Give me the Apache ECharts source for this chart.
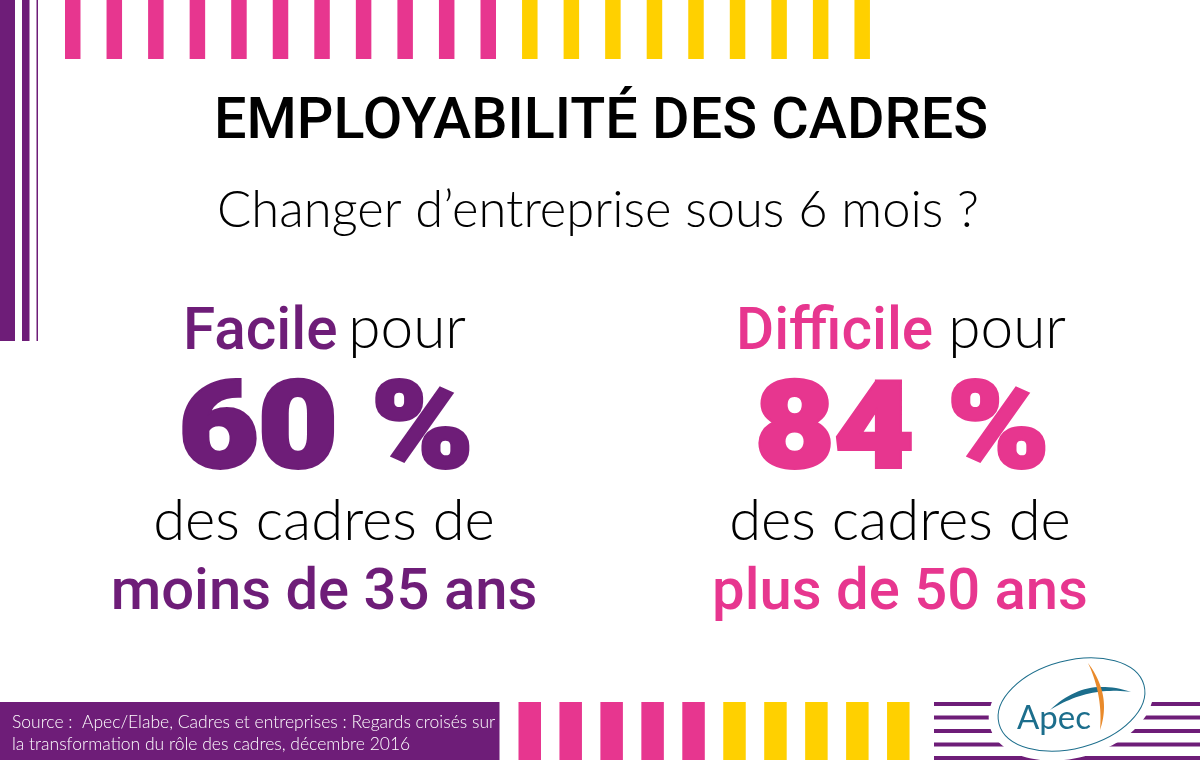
<!DOCTYPE html>
<html>
<head>
	<meta charset="utf-8">
	<title>Employabilité des cadres</title>
	<script src="https://cdn.jsdelivr.net/npm/echarts@6/dist/echarts.min.js"></script>
	<style>
	html, body { height: 100%; margin: 0; background: #fff; }
	#main { width: 1200px; height: 760px; }
	</style>
</head>
<body>
<div id="main"></div>
<script>
	// chart content
	var titleText = 'EMPLOYABILITÉ DES CADRES';
	var questionText = 'Changer d’entreprise sous 6 mois ?';
	var leadWords = ['Facile', 'Difficile'];
	var percentages = [60, 84];
	var ageGroups = ['moins de 35 ans', 'plus de 50 ans'];
	var sourceLines = [
		'Source :  Apec/Elabe, Cadres et entreprises : Regards croisés sur',
		'la transformation du rôle des cadres, décembre 2016'
	];

	var PURPLE = '#6e1d78', PINK = '#e7368f', YELLOW = '#ffd000', TEAL = '#1c6e8c', ORANGE = '#e98a2b';
	var LIGHT = '"Lato", "Open Sans", sans-serif';
	var HEAVY = '"Roboto", "Lato", sans-serif';
	var centers = [324, 900];
	var colors = [PURPLE, PINK];
	var leadLeft = [183, 736];
	var pourRight = [466, 1066];

	var myChart = echarts.init(document.getElementById('main'), null, { renderer: 'canvas' });
	var els = [];

	function bar(x, y, w, h, color) {
		els.push({ type: 'rect', shape: { x: x, y: y, width: w, height: h }, style: { fill: color } });
	}
	function text(x, y, str, size, color, weight, align, family, thicken, stretch) {
		els.push({
			type: 'text', x: x, y: y, scaleX: stretch || 1,
			style: {
				text: str, fontSize: size, fill: color, fontWeight: weight || 300,
				fontFamily: family || LIGHT, textAlign: align || 'center', textVerticalAlign: 'middle',
				stroke: thicken ? color : null, lineWidth: thicken || 0
			}
		});
	}
	// le type path n'existe pas dans graphic : on echantillonne le croissant en polygone
	function crescent(a, c1, b, c2, color) {
		var pts = [], n = 24, t, k;
		for (k = 0; k <= n; k++) {
			t = k / n;
			pts.push([
				(1 - t) * (1 - t) * a[0] + 2 * t * (1 - t) * c1[0] + t * t * b[0],
				(1 - t) * (1 - t) * a[1] + 2 * t * (1 - t) * c1[1] + t * t * b[1]
			]);
		}
		for (k = n; k >= 0; k--) {
			t = k / n;
			pts.push([
				(1 - t) * (1 - t) * a[0] + 2 * t * (1 - t) * c2[0] + t * t * b[0],
				(1 - t) * (1 - t) * a[1] + 2 * t * (1 - t) * c2[1] + t * t * b[1]
			]);
		}
		els.push({ type: 'polygon', shape: { points: pts }, style: { fill: color } });
	}

	// bandes du haut
	for (var i = 0; i < 20; i++) {
		bar(65 + i * 41.55, 0, 15.5, 59, i < 11 ? PINK : YELLOW);
	}
	// bandes de gauche
	bar(0, 0, 15, 341, PURPLE);
	bar(22, 0, 7.5, 341, PURPLE);
	bar(36.5, 0, 1.5, 341, PURPLE);

	// titres
	text(601, 124, titleText, 57.5, '#000', 500, 'center', HEAVY);
	text(598, 211, questionText, 50.7, '#000', 300);

	// les deux colonnes
	percentages.forEach(function (value, k) {
		text(leadLeft[k], 334, leadWords[k], 58.5, colors[k], 500, 'left', HEAVY);
		text(pourRight[k], 329, 'pour', 58.5, '#000', 300, 'right');
		text(centers[k] + 2, 437, value + ' %', 120, colors[k], 900, 'center', HEAVY, 4, 1.14);
		text(centers[k], 521, 'des cadres de', 58, '#000', 300);
		text(centers[k], 594, ageGroups[k], 58, colors[k], 500, 'center', HEAVY);
	});

	// pied de page
	bar(0, 702, 499.5, 58, PURPLE);
	sourceLines.forEach(function (line, k) {
		text(12, 722 + k * 22, line, 17.5, '#fff', 300, 'left');
	});
	for (var j = 0; j < 10; j++) {
		bar(518.5 + j * 40.95, 702, 22.5, 58, j < 5 ? PINK : YELLOW);
	}

	// logo
	[702, 715.5, 729, 742.5, 756].forEach(function (y) {
		bar(934, y, 266, 4, PURPLE);
	});
	els.push({
		type: 'ellipse', x: 1071, y: 705, rotation: 0.26,
		shape: { cx: 0, cy: 0, rx: 84, ry: 53 }, style: { fill: '#fff' }
	});
	els.push({
		type: 'ellipse', x: 1071.5, y: 704.5, rotation: 0.26,
		shape: { cx: 0, cy: 0, rx: 75, ry: 44 }, style: { fill: '#fff', stroke: TEAL, lineWidth: 1 }
	});
	crescent([1050, 710], [1085, 676], [1131, 692], [1088, 686], TEAL);
	text(1054, 718, 'Apec', 33, TEAL, 400);
	crescent([1088, 663], [1112, 695], [1100, 730], [1103, 695], ORANGE);

	myChart.setOption({
		backgroundColor: '#fff',
		animation: false,
		graphic: { elements: els }
	});
</script>
</body>
</html>
